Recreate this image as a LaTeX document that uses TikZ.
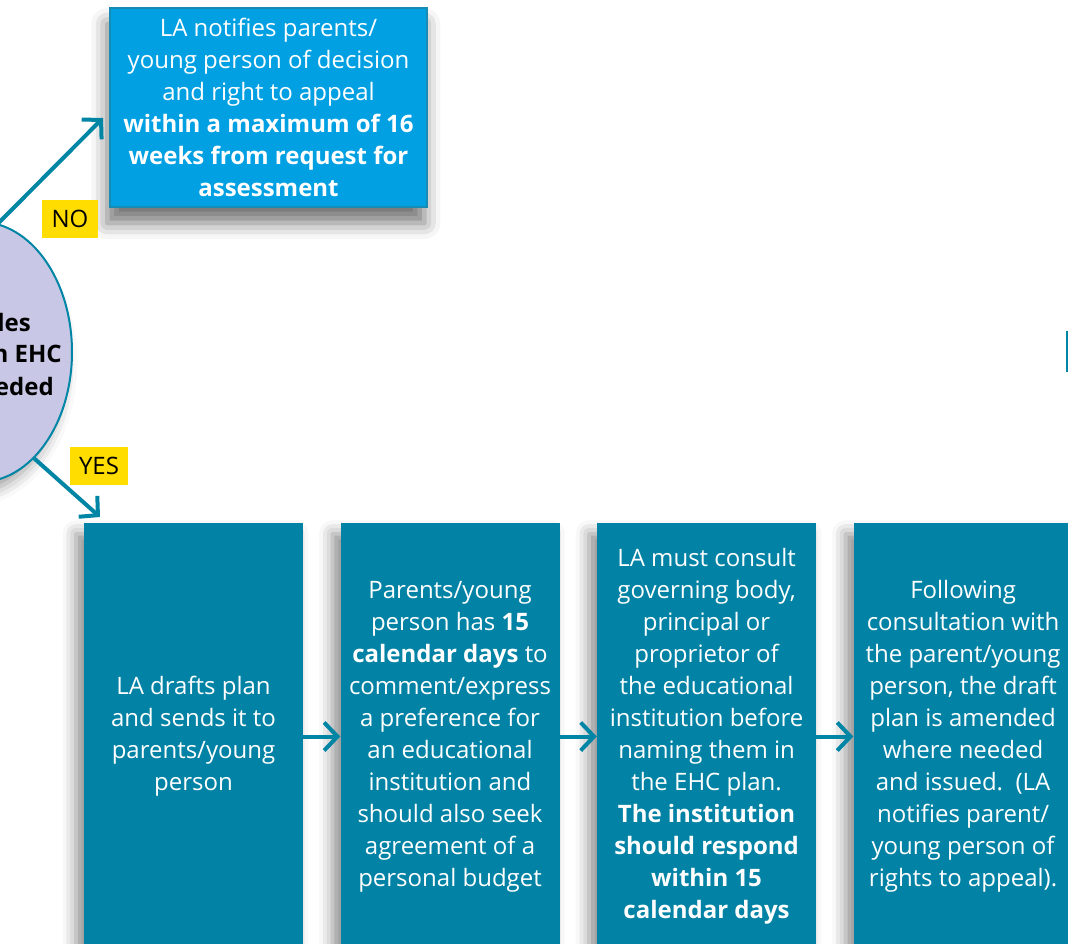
\documentclass[tikz,border=0pt]{standalone}
\usepackage{fontspec}
\setmainfont{Open Sans}
\usepackage{xcolor}
\definecolor{noblue}{RGB}{0,160,227}
\definecolor{noedge}{RGB}{24,139,178}
\definecolor{stageteal}{RGB}{2,130,164}
\definecolor{flowteal}{RGB}{0,133,165}
\definecolor{decidelilac}{RGB}{200,200,230}
\definecolor{tagyellow}{RGB}{255,221,0}
\usepackage{tikz}
\usetikzlibrary{positioning,shapes.geometric,arrows.meta,shadows.blur}

% one pixel of the layout grid
\newcommand{\pix}{0.75pt}

\begin{document}
\begin{tikzpicture}[x=0.75pt, y=-0.75pt,
    flow/.style={draw=flowteal, line width=4*\pix, line join=miter,
      -{Straight Barb[length=10pt, width=21pt]}},
    stage/.style={fill=stageteal, text=white, inner sep=0pt, align=center,
      minimum width=219*\pix, minimum height=427*\pix,
      font=\fontsize{18}{24}\selectfont,
      blur shadow={shadow xshift=-6pt, shadow yshift=-8pt,
        shadow blur radius=10pt, shadow opacity=45}},
    tag/.style={fill=tagyellow, inner sep=0pt, minimum height=38*\pix,
      font=\fontsize{18}{24}\selectfont}]

    \path [use as bounding box, clip] (0,0) rectangle (1068,943);

    % the decision
    \node [ellipse, draw=flowteal, line width=2*\pix, fill=decidelilac,
      minimum width=184*\pix, minimum height=260*\pix, inner sep=0pt,
      blur shadow={shadow xshift=-6pt, shadow yshift=-8pt,
        shadow blur radius=10pt, shadow opacity=40}] (decide) at (-20,352) {};
    \node [anchor=east, inner sep=0pt, font=\fontsize{18}{24}\selectfont\bfseries] (dline1) at (31,322) {les};
    \node [anchor=east, inner sep=0pt, font=\fontsize{18}{24}\selectfont\bfseries] (dline2) at (62,354) {n EHC};
    \node [anchor=east, inner sep=0pt, font=\fontsize{18}{24}\selectfont\bfseries] (dline3) at (54,386) {eded};

    % NO branch
    \node [fill=noblue, draw=noedge, line width=2*\pix, text=white,
      minimum width=317*\pix, minimum height=199*\pix, inner sep=0pt,
      align=center, font=\fontsize{18}{24}\selectfont,
      blur shadow={shadow xshift=-2pt, shadow yshift=-12pt,
        shadow blur radius=12pt, shadow opacity=55}] (notify) at (268.5,107.5) %
      {LA notifies parents/\\young person of decision\\and right to appeal\\
       \textbf{within a maximum of 16}\\\textbf{weeks from request for}\\
       \textbf{assessment}};
    \coordinate (notip) at (103,118);
    \draw [flow] (decide.82) -- (notip);
    \node [tag, minimum width=56*\pix] (no) at (70,219) {NO};

    % YES branch
    \coordinate (yestip) at (100,517);
    \draw [flow] (decide.-63) -- (yestip);
    \node [tag, minimum width=58*\pix] (yes) at (99,466) {YES};

    \node [stage] (draft) at (193.5,736.5) %
      {LA drafts plan\\and sends it to\\parents/young\\person};
    \node [stage, right=37*\pix of draft] (comment) %
      {Parents/young\\person has \textbf{15}\\\textbf{calendar days} to\\
       comment/express\\a preference for\\an educational\\institution and\\
       should also seek\\agreement of a\\personal budget};
    \node [stage, right=37*\pix of comment] (consult) %
      {LA must consult\\governing body,\\principal or\\proprietor of\\
       the educational\\institution before\\naming them in\\the EHC plan.\\
       \textbf{The institution}\\\textbf{should respond}\\\textbf{within 15}\\
       \textbf{calendar days}};
    \node [stage, right=37*\pix of consult] (issue) %
      {Following\\consultation with\\the parent/young\\person, the draft\\
       plan is amended\\where needed\\and issued.\ \ (LA\\notifies parent/\\
       young person of\\rights to appeal).};

    \draw [flow] (draft) -- (comment);
    \draw [flow] (comment) -- (consult);
    \draw [flow] (consult) -- (issue);

    \draw [flowteal, line width=2*\pix] (1067,331) -- (1067,372);
\end{tikzpicture}
\end{document}
